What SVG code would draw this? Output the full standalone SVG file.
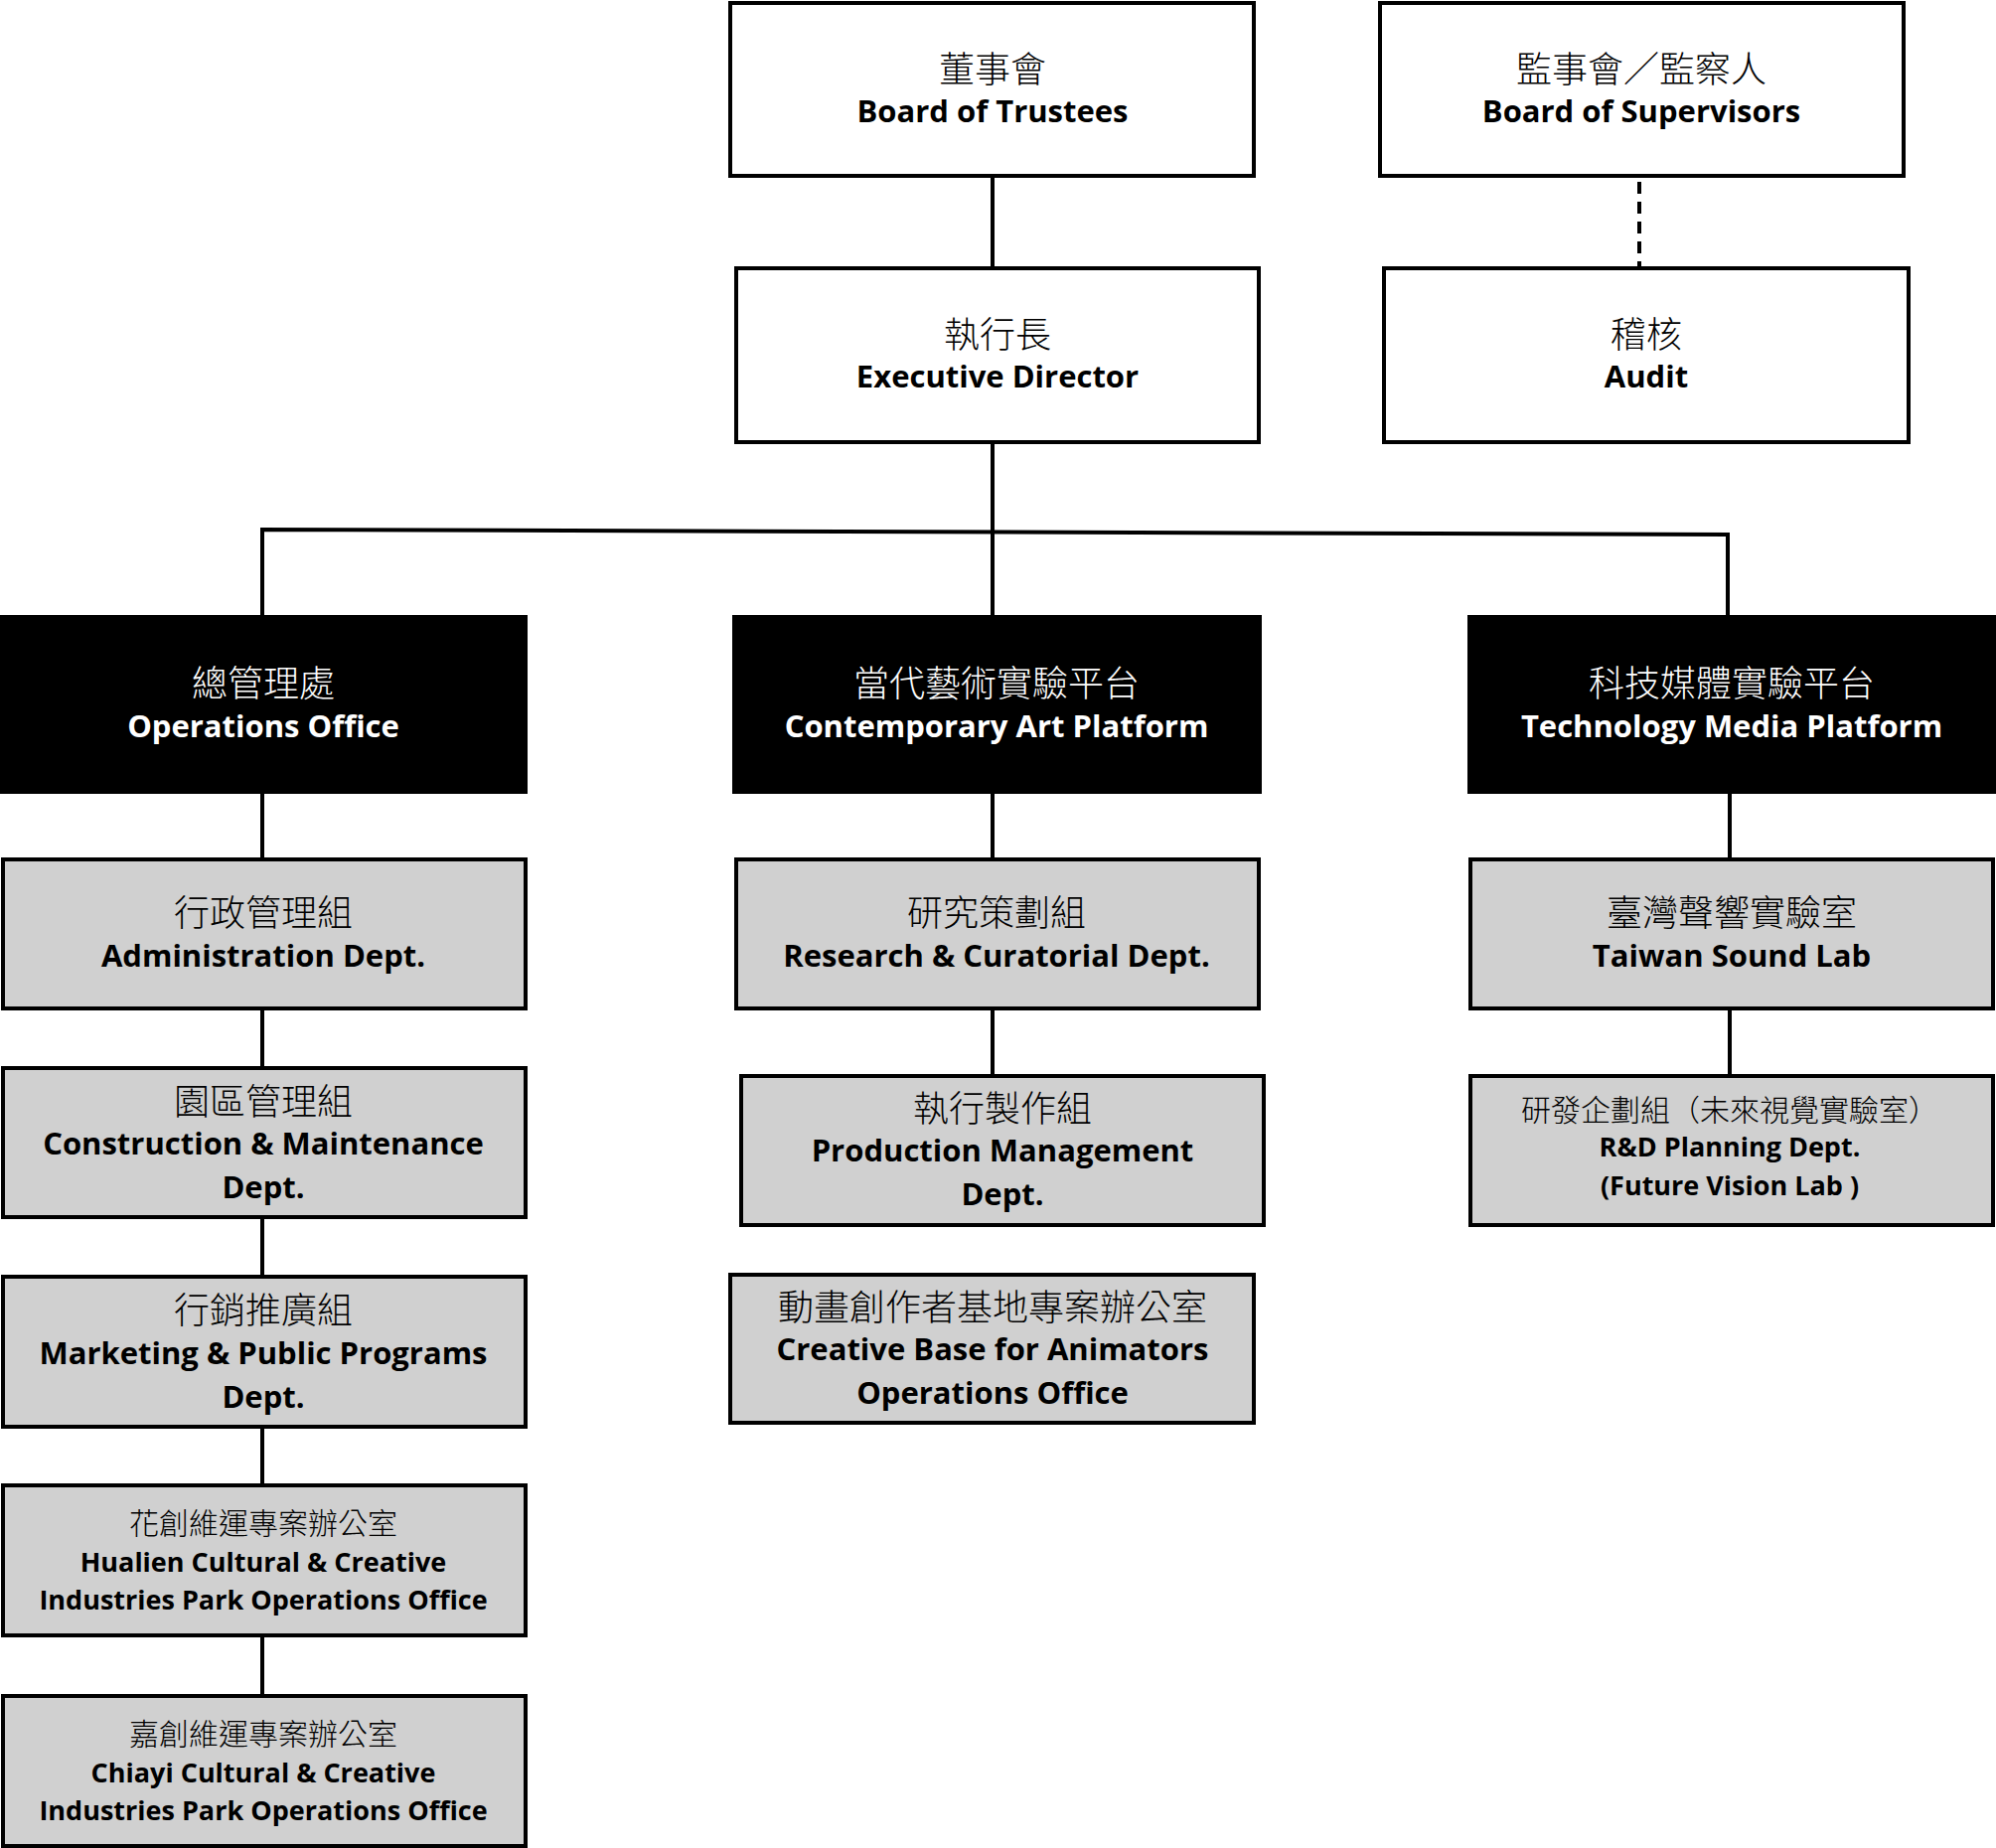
<svg xmlns="http://www.w3.org/2000/svg" width="2009" height="1860" viewBox="0 0 2009 1860">
<style>
.w{fill:#fff;stroke:#000;stroke-width:4}
.b{fill:#000;stroke:#000;stroke-width:4}
.g{fill:#d0d0d0;stroke:#000;stroke-width:4}
text{text-anchor:middle;font-family:"Open Sans","Noto Sans CJK TC",sans-serif}
.zh{font-family:"Noto Sans CJK TC",sans-serif;font-size:36px;font-weight:300}
.en{font-weight:bold;font-size:31px}
.zs{font-family:"Noto Sans CJK TC",sans-serif;font-size:30px;font-weight:300}
.es{font-weight:bold;font-size:27px}
.wt{fill:#fff}
.c{stroke:#000;stroke-width:4;fill:none}
</style>
<g id="connectors">
<line class="c" x1="999" y1="177" x2="999" y2="270"/>
<line class="c" x1="1650" y1="183" x2="1650" y2="270" stroke-dasharray="12,8"/>
<line class="c" x1="999" y1="445" x2="999" y2="621"/>
<polyline class="c" points="264,621 264,533 1739,538 1739,621"/>
<line class="c" x1="264" y1="797" x2="264" y2="1707"/>
<line class="c" x1="999" y1="797" x2="999" y2="1083"/>
<line class="c" x1="1741" y1="797" x2="1741" y2="1083"/>
</g>
<g id="trustees"><rect class="w" x="735" y="3" width="527" height="174"/><text class="zh" x="999" y="83">董事會</text><text class="en" x="999" y="123">Board of Trustees</text></g>
<g id="supervisors"><rect class="w" x="1389" y="3" width="527" height="174"/><text class="zh" x="1652" y="83">監事會／監察人</text><text class="en" x="1652" y="123">Board of Supervisors</text></g>
<g id="director"><rect class="w" x="741" y="270" width="526" height="175"/><text class="zh" x="1004" y="350">執行長</text><text class="en" x="1004" y="390">Executive Director</text></g>
<g id="audit"><rect class="w" x="1393" y="270" width="528" height="175"/><text class="zh" x="1657" y="350">稽核</text><text class="en" x="1657" y="390">Audit</text></g>
<g id="ops"><rect class="b" x="0" y="621" width="529" height="176"/><text class="zh wt" x="265" y="701">總管理處</text><text class="en wt" x="265" y="742">Operations Office</text></g>
<g id="cap"><rect class="b" x="739" y="621" width="529" height="176"/><text class="zh wt" x="1003" y="701">當代藝術實驗平台</text><text class="en wt" x="1003" y="742">Contemporary Art Platform</text></g>
<g id="tmp"><rect class="b" x="1479" y="621" width="530" height="176"/><text class="zh wt" x="1743" y="701">科技媒體實驗平台</text><text class="en wt" x="1743" y="742">Technology Media Platform</text></g>
<g id="admin"><rect class="g" x="3" y="865" width="526" height="150"/><text class="zh" x="265" y="932">行政管理組</text><text class="en" x="265" y="973">Administration Dept.</text></g>
<g id="construct"><rect class="g" x="3" y="1075" width="526" height="150"/><text class="zh" x="265" y="1122">園區管理組</text><text class="en" x="265" y="1162">Construction &amp; Maintenance</text><text class="en" x="265" y="1206">Dept.</text></g>
<g id="marketing"><rect class="g" x="3" y="1285" width="526" height="151"/><text class="zh" x="265" y="1332">行銷推廣組</text><text class="en" x="265" y="1373">Marketing &amp; Public Programs</text><text class="en" x="265" y="1417">Dept.</text></g>
<g id="hualien"><rect class="g" x="3" y="1495" width="526" height="151"/><text class="zs" x="265" y="1544">花創維運專案辦公室</text><text class="es" x="265" y="1582">Hualien Cultural &amp; Creative</text><text class="es" x="265" y="1620">Industries Park Operations Office</text></g>
<g id="chiayi"><rect class="g" x="3" y="1707" width="526" height="151"/><text class="zs" x="265" y="1756">嘉創維運專案辦公室</text><text class="es" x="265" y="1794">Chiayi Cultural &amp; Creative</text><text class="es" x="265" y="1832">Industries Park Operations Office</text></g>
<g id="research"><rect class="g" x="741" y="865" width="526" height="150"/><text class="zh" x="1003" y="932">研究策劃組</text><text class="en" x="1003" y="973">Research &amp; Curatorial Dept.</text></g>
<g id="production"><rect class="g" x="746" y="1083" width="526" height="150"/><text class="zh" x="1009" y="1129">執行製作組</text><text class="en" x="1009" y="1169">Production Management</text><text class="en" x="1009" y="1213">Dept.</text></g>
<g id="animators"><rect class="g" x="735" y="1283" width="527" height="149"/><text class="zh" x="999" y="1329">動畫創作者基地專案辦公室</text><text class="en" x="999" y="1369">Creative Base for Animators</text><text class="en" x="999" y="1413">Operations Office</text></g>
<g id="sound"><rect class="g" x="1480" y="865" width="526" height="150"/><text class="zh" x="1743" y="932">臺灣聲響實驗室</text><text class="en" x="1743" y="973">Taiwan Sound Lab</text></g>
<g id="rnd"><rect class="g" x="1480" y="1083" width="526" height="150"/><text class="zs" x="1741" y="1128">研發企劃組（未來視覺實驗室）</text><text class="es" x="1741" y="1164">R&amp;D Planning Dept.</text><text class="es" x="1741" y="1203">(Future Vision Lab )</text></g>
</svg>
